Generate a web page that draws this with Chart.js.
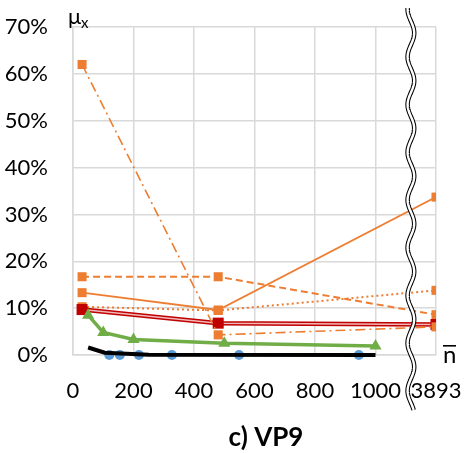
<!DOCTYPE html>
<html>
<head>
<meta charset="utf-8">
<script src="https://cdn.jsdelivr.net/npm/chart.js@4"></script>
<style>
  html, body { margin: 0; padding: 0; background: #fff; }
  #wrap { width: 466px; height: 453px; }
</style>
</head>
<body>
<div id="wrap"><canvas id="vp9"></canvas></div>
<script>
// n values; the last one (3893) sits in the 1200 slot, behind the axis break
const nFar = 3893
const farSlot = 1200
const xTickValues = [0, 200, 400, 600, 800, 1000, 1200]

const nOrange = [30, 480, nFar]
const orangeDashDot = [62.0, 4.3, 6.0]
const orangeDashed = [16.7, 16.7, 8.6]
const orangeSolid = [13.3, 9.6, 33.7]
const orangeDotted = [10.3, 9.5, 13.8]
const redValues = [9.7, 6.8, 6.5]

const nGreen = [50, 100, 200, 500, 1000]
const greenValues = [8.5, 4.8, 3.3, 2.5, 1.9]

const nBlack = [50, 105, 250, 1000]
const blackValues = [1.6, 0.5, 0.05, 0]

const nBlue = [120, 155, 218, 327, 549, 945]
const blueValues = [0, 0, 0, 0, 0, 0]

const ORANGE = '#ED7D31'
const RED = '#C00000'
const FONT = 'Lato, "Open Sans", sans-serif'

function slot(n) {
  return n === nFar ? farSlot : n
}
function pts(xs, ys) {
  return xs.map((n, i) => ({ x: slot(n), y: ys[i] }))
}

function orangeSet(values, dash, width, order) {
  return {
    data: pts(nOrange, values),
    borderColor: ORANGE,
    borderWidth: width,
    borderDash: dash,
    pointStyle: 'rect',
    pointRadius: 6.4,
    pointBackgroundColor: ORANGE,
    pointBorderWidth: 0,
    order: order,
  }
}

// no extra room for end labels, the layout padding handles it
function noEdgePadding(s) {
  s.paddingLeft = 0
  s.paddingRight = 0
  s.paddingTop = 0
  s.paddingBottom = 0
}

// wavy double line for the axis break + the free-floating labels
const extras = {
  id: 'extras',
  afterDraw(chart) {
    const ctx = chart.ctx
    const x0 = chart.scales.x.getPixelForValue(1117)
    const wave = () => {
      ctx.beginPath()
      for (let y = 8; y <= 410; y++) {
        const x = x0 + 3.3 * Math.sin((y - 21.1) / 47.7 * 2 * Math.PI)
        if (y === 8) ctx.moveTo(x, y)
        else ctx.lineTo(x, y)
      }
    }
    ctx.save()
    wave()
    ctx.strokeStyle = '#000'
    ctx.lineWidth = 4.5
    ctx.stroke()
    wave()
    ctx.strokeStyle = '#fff'
    ctx.lineWidth = 2.4
    ctx.stroke()

    ctx.fillStyle = '#000'
    ctx.textBaseline = 'alphabetic'
    ctx.textAlign = 'left'
    ctx.font = '22px ' + FONT
    ctx.fillText('μ', 68, 24)
    ctx.font = '15px ' + FONT
    ctx.fillText('x', 81, 28)

    ctx.font = '24px ' + FONT
    ctx.fillText('n', 443, 363)
    ctx.fillRect(443, 345, 13, 1.6)

    ctx.textAlign = 'center'
    ctx.font = 'bold 26px ' + FONT
    ctx.fillText('c) VP9', 266, 446)
    ctx.restore()
  }
}

Chart.defaults.color = '#000'
Chart.defaults.font.family = FONT

new Chart(document.getElementById('vp9'), {
  type: 'line',
  data: {
    datasets: [
      {
        data: pts(nBlack, blackValues),
        borderColor: '#000',
        borderWidth: 4,
        pointRadius: 0,
        clip: false,
        order: 1,
      },
      {
        data: pts(nBlue, blueValues),
        showLine: false,
        pointRadius: 5,
        pointBackgroundColor: '#5B9BD5',
        pointBorderWidth: 0,
        clip: false,
        order: 2,
      },
      {
        data: pts(nGreen, greenValues),
        borderColor: '#70AD47',
        borderWidth: 3.5,
        pointStyle: 'triangle',
        pointRadius: 7,
        pointBackgroundColor: '#70AD47',
        pointBorderWidth: 0,
        clip: false,
        order: 3,
      },
      orangeSet(orangeDashDot, [10, 4, 2, 4], 1.6, 4),
      // red compound line: thin light core on top of a wide red stroke
      {
        data: pts(nOrange, redValues),
        borderColor: '#F2B8B8',
        borderWidth: 1.5,
        pointStyle: 'rect',
        pointRadius: 7.8,
        pointBackgroundColor: RED,
        pointBorderWidth: 0,
        order: 5,
      },
      {
        data: pts(nOrange, redValues),
        borderColor: RED,
        borderWidth: 4.5,
        pointRadius: 0,
        order: 6,
      },
      orangeSet(orangeDotted, [2, 3], 2, 7),
      orangeSet(orangeDashed, [7, 4], 2, 8),
      orangeSet(orangeSolid, [], 1.8, 9),
    ]
  },
  options: {
    responsive: true,
    maintainAspectRatio: false,
    animation: false,
    layout: { padding: { top: 27, right: 30, bottom: 0, left: 0 } },
    plugins: {
      legend: { display: false },
      tooltip: { enabled: false },
      title: { display: false },
    },
    scales: {
      x: {
        type: 'linear',
        min: 0,
        max: farSlot,
        afterFit: (s) => { s.height = 98; noEdgePadding(s) },
        afterBuildTicks: (s) => { s.ticks = xTickValues.map(v => ({ value: v })) },
        grid: { color: '#d9d9d9', lineWidth: 1.5, drawTicks: false },
        border: { color: '#d9d9d9', width: 1.5 },
        ticks: {
          autoSkip: false,
          maxRotation: 0,
          padding: 23,
          font: { size: 22 },
          callback: (v) => v === farSlot ? String(nFar) : String(v),
        },
      },
      y: {
        type: 'linear',
        min: 0,
        max: 70,
        afterFit: (s) => { s.width = 73; noEdgePadding(s) },
        grid: { color: '#d9d9d9', lineWidth: 1.5, drawTicks: false },
        border: { color: '#d9d9d9', width: 1.5 },
        ticks: {
          stepSize: 10,
          padding: 25,
          font: { size: 22 },
          callback: (v) => v + '%',
        },
      },
    }
  },
  plugins: [extras],
})
</script>
</body>
</html>
